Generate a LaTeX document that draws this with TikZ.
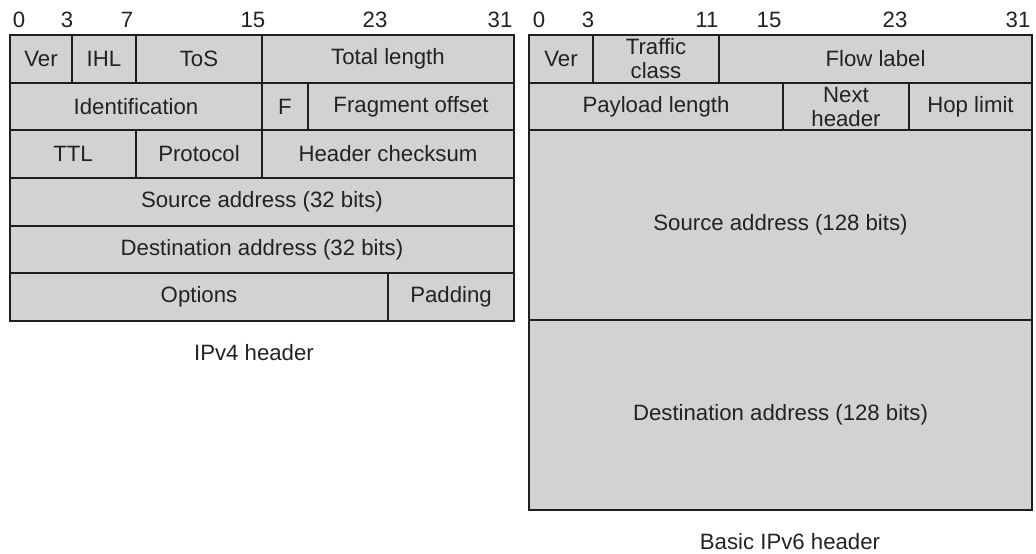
\documentclass[tikz,border=0pt]{standalone}
\usepackage{fontspec}
\setmainfont{Liberation Sans}
\definecolor{fieldfill}{HTML}{D2D2D2}
\definecolor{txt}{HTML}{222222}
\definecolor{edge}{HTML}{1E1E1E}
\newcommand\fld[6]{\node[field, minimum width={(#4-#2)*1pt}, minimum height={(#5-#3)*1pt}, anchor=north west] (#1) at (#2,#3) {#6};}
\begin{document}
\begin{tikzpicture}[x=1pt,y=-1pt,
  field/.style={draw=edge, fill=fieldfill, line width=1.4pt, inner sep=0pt, outer sep=0pt, align=center, text=txt,
    font=\fontsize{22.2}{24}\selectfont},
  bitlbl/.style={inner sep=0pt, text=txt, font=\fontsize{22.2}{24}\selectfont},
  caption/.style={inner sep=0pt, text=txt, font=\fontsize{22.2}{24}\selectfont}]
\useasboundingbox (0,0) rectangle (1036,554);
% IPv4
\fld{v4ver}{10}{35}{72}{83}{Ver}
\fld{v4ihl}{72}{35}{136}{83}{IHL}
\fld{v4tos}{136}{35}{262}{83}{ToS}
\fld{v4tot}{262}{35}{514}{83}{Total length}
\fld{v4id}{10}{83}{262}{130}{Identification}
\fld{v4f}{262}{83}{308}{130}{F}
\fld{v4frag}{308}{83}{514}{130}{Fragment offset}
\fld{v4ttl}{10}{130}{136}{178}{TTL}
\fld{v4proto}{136}{130}{262}{178}{Protocol}
\fld{v4chk}{262}{130}{514}{178}{Header checksum}
\fld{v4src}{10}{178}{514}{226}{Source address (32 bits)}
\fld{v4dst}{10}{226}{514}{273}{Destination address (32 bits)}
\fld{v4opt}{10}{273}{388}{321}{Options}
\fld{v4pad}{388}{273}{514}{321}{Padding}
\node[bitlbl] (b4a) at (19,20) {0};
\node[bitlbl] (b4b) at (67,20) {3};
\node[bitlbl] (b4c) at (127,20) {7};
\node[bitlbl] (b4d) at (253,20) {15};
\node[bitlbl] (b4e) at (375,20) {23};
\node[bitlbl] (b4f) at (500,20) {31};
\node[caption] (cap4) at (254,353) {IPv4 header};
% IPv6
\fld{v6ver}{529}{35}{593}{83}{Ver}
\fld{v6tc}{593}{35}{719}{83}{Traffic\\class}
\fld{v6flow}{719}{35}{1032}{83}{Flow label}
\fld{v6pay}{529}{83}{783}{130}{Payload length}
\fld{v6next}{783}{83}{909}{130}{Next\\header}
\fld{v6hop}{909}{83}{1032}{130}{Hop limit}
\fld{v6src}{529}{130}{1032}{320}{Source address (128 bits)}
\fld{v6dst}{529}{320}{1032}{510}{Destination address (128 bits)}
\node[bitlbl] (b6a) at (539,20) {0};
\node[bitlbl] (b6b) at (588,20) {3};
\node[bitlbl] (b6c) at (707,20) {11};
\node[bitlbl] (b6d) at (769,20) {15};
\node[bitlbl] (b6e) at (895,20) {23};
\node[bitlbl] (b6f) at (1018,20) {31};
\node[caption] (cap6) at (790,542) {Basic IPv6 header};
\end{tikzpicture}
\end{document}
